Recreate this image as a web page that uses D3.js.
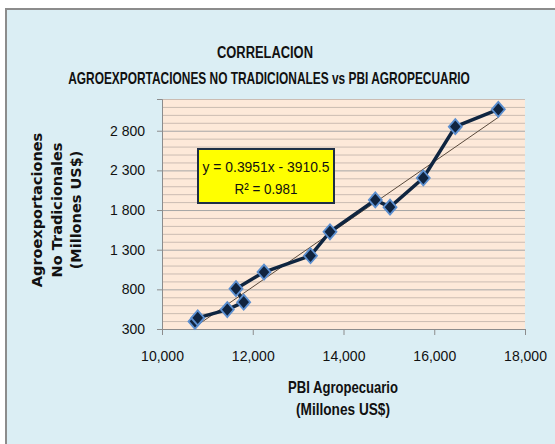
<!DOCTYPE html>
<html>
<head>
<meta charset="utf-8">
<script src="https://cdn.jsdelivr.net/npm/d3@7"></script>
<style>
    body { margin: 0; background: #ffffff; }
    svg { display: block; }
</style>
</head>
<body>
<div id="chart"></div>
<script>
'use strict';

// PBI agropecuario (x) vs agroexportaciones no tradicionales (y), in plotted order
var pbi = [10727, 10787, 11439, 11800, 11631, 12248, 13273, 13702, 14701, 15025, 15759, 16464, 17412];
var agro = [396, 440, 545, 638, 808, 1018, 1224, 1526, 1928, 1836, 2204, 2851, 3070];

var xTicks = [10000, 12000, 14000, 16000, 18000];
var yTicks = [300, 800, 1300, 1800, 2300, 2800];

var trendSlope = 0.3951,
    trendIntercept = -3910.5;
var trendLabels = ['y = 0.3951x - 3910.5', 'R² = 0.981'];

var titleLines = ['CORRELACION', 'AGROEXPORTACIONES NO TRADICIONALES vs PBI AGROPECUARIO'];
var yTitleLines = ['Agroexportaciones', 'No Tradicionales', '(Millones US$)'];
var xTitleLines = ['PBI Agropecuario', '(Millones US$)'];

var width = 555,
    height = 444;

var sans = "'Liberation Sans', Arial, sans-serif";

var plot = { left: 162, right: 525, top: 99, bottom: 329 };

var svg = d3.select('#chart').append('svg')
    .attr('width', width)
    .attr('height', height);

// chart frame (cropped on right and bottom)
svg.append('rect')
    .attr('x', 6)
    .attr('y', 9)
    .attr('width', width + 10)
    .attr('height', height + 10)
    .attr('fill', '#dbeef4')
    .attr('stroke', '#8c8c8c')
    .attr('stroke-width', 2);

var x = d3.scaleLinear().domain([10000, 18000]).range([plot.left, plot.right]);
var y = d3.scaleLinear().domain([300, 3200]).range([plot.bottom, plot.top]);

svg.append('rect')
    .attr('x', plot.left)
    .attr('y', plot.top)
    .attr('width', plot.right - plot.left)
    .attr('height', plot.bottom - plot.top)
    .attr('fill', '#fde9d9');

// gridlines every 100, darker every 500
var gridValues = d3.range(400, 3201, 100);
svg.append('g')
    .attr('id', 'grid-layer')
    .selectAll('line')
    .data(gridValues)
    .enter().append('line')
    .attr('x1', plot.left)
    .attr('x2', plot.right)
    .attr('y1', function(d) { return y(d) + 0.5; })
    .attr('y2', function(d) { return y(d) + 0.5; })
    .attr('stroke', function(d) { return (d - 300) % 500 === 0 ? '#a6a6a6' : '#cbbcb2'; })
    .attr('stroke-width', 1);

var spaceFormat = d3.formatLocale({ decimal: '.', thousands: ' ', grouping: [3], currency: ['', ''] }).format(',');

var yAxis = svg.append('g')
    .attr('transform', 'translate(' + plot.left + ',0)')
    .call(d3.axisLeft(y).tickValues(yTicks).tickSize(5).tickPadding(12).tickFormat(spaceFormat));

var xAxis = svg.append('g')
    .attr('transform', 'translate(0,' + plot.bottom + ')')
    .call(d3.axisBottom(x).tickValues(xTicks).tickSize(6).tickPadding(16).tickFormat(d3.format(',')));

[yAxis, xAxis].forEach(function(axis) {
    axis.select('.domain').attr('stroke', '#8c8c8c');
    axis.selectAll('.tick line').attr('stroke', '#8c8c8c');
    axis.selectAll('.tick text')
        .attr('fill', '#111')
        .attr('font-family', sans)
        .attr('font-size', '14px');
});

// trendline across the data range
var xExtent = d3.extent(pbi);
svg.append('line')
    .attr('x1', x(xExtent[0]))
    .attr('y1', y(trendSlope * xExtent[0] + trendIntercept))
    .attr('x2', x(xExtent[1]))
    .attr('y2', y(trendSlope * xExtent[1] + trendIntercept))
    .attr('stroke', '#5a4a3c')
    .attr('stroke-width', 1);

var points = pbi.map(function(d, i) { return [d, agro[i]]; });

svg.append('path')
    .datum(points)
    .attr('d', d3.line().x(function(d) { return x(d[0]); }).y(function(d) { return y(d[1]); }))
    .attr('fill', 'none')
    .attr('stroke', '#0f2540')
    .attr('stroke-width', 3.5)
    .attr('stroke-linejoin', 'round');

svg.append('g')
    .selectAll('path')
    .data(points)
    .enter().append('path')
    .attr('transform', function(d) { return 'translate(' + x(d[0]) + ',' + y(d[1]) + ')'; })
    .attr('d', 'M0,-7.5 L6.5,0 L0,7.5 L-6.5,0 Z')
    .attr('fill', '#10243f')
    .attr('stroke', '#5b8fd0')
    .attr('stroke-width', 1.8);

// centred text lines, narrowed to the width of the original condensed font
function addLines(parent, lines, opts) {
    parent.selectAll(null)
        .data(lines)
        .enter().append('text')
        .attr('text-anchor', 'middle')
        .attr('font-family', sans)
        .attr('font-weight', opts.weight || 'normal')
        .attr('font-size', opts.size)
        .attr('fill', '#111')
        .text(function(d) { return d; })
        .attr('transform', function(d, i) {
            var sx = Math.min(1, opts.widths[i] / this.getComputedTextLength());
            return 'translate(' + opts.x[i] + ',' + opts.y[i] + ') scale(' + sx + ',1)';
        });
}

// equation box
var box = svg.append('g').attr('transform', 'translate(198,149)');
box.append('rect')
    .attr('width', 136)
    .attr('height', 54)
    .attr('fill', '#ffff00')
    .attr('stroke', '#1f2f45')
    .attr('stroke-width', 2);
addLines(box, trendLabels, { size: '15.5px', widths: [127, 63], x: [68, 68], y: [23, 44.5] });

// titles
addLines(svg, titleLines, { size: '16px', weight: 'bold', widths: [96, 402], x: [265, 269], y: [58, 83.5] });
addLines(svg, xTitleLines, { size: '16px', weight: 'bold', widths: [110, 94], x: [343, 343], y: [393, 414.5] });

svg.selectAll('.ytitle')
    .data(yTitleLines)
    .enter().append('text')
    .attr('class', 'ytitle')
    .attr('transform', function(d, i) { return 'translate(' + (42 + i * 19.5) + ',210) rotate(-90)'; })
    .attr('text-anchor', 'middle')
    .attr('font-family', 'DejaVu Sans, sans-serif')
    .attr('font-weight', 'bold')
    .attr('font-size', '14.5px')
    .attr('fill', '#111')
    .text(function(d) { return d; });
</script>
</body>
</html>
